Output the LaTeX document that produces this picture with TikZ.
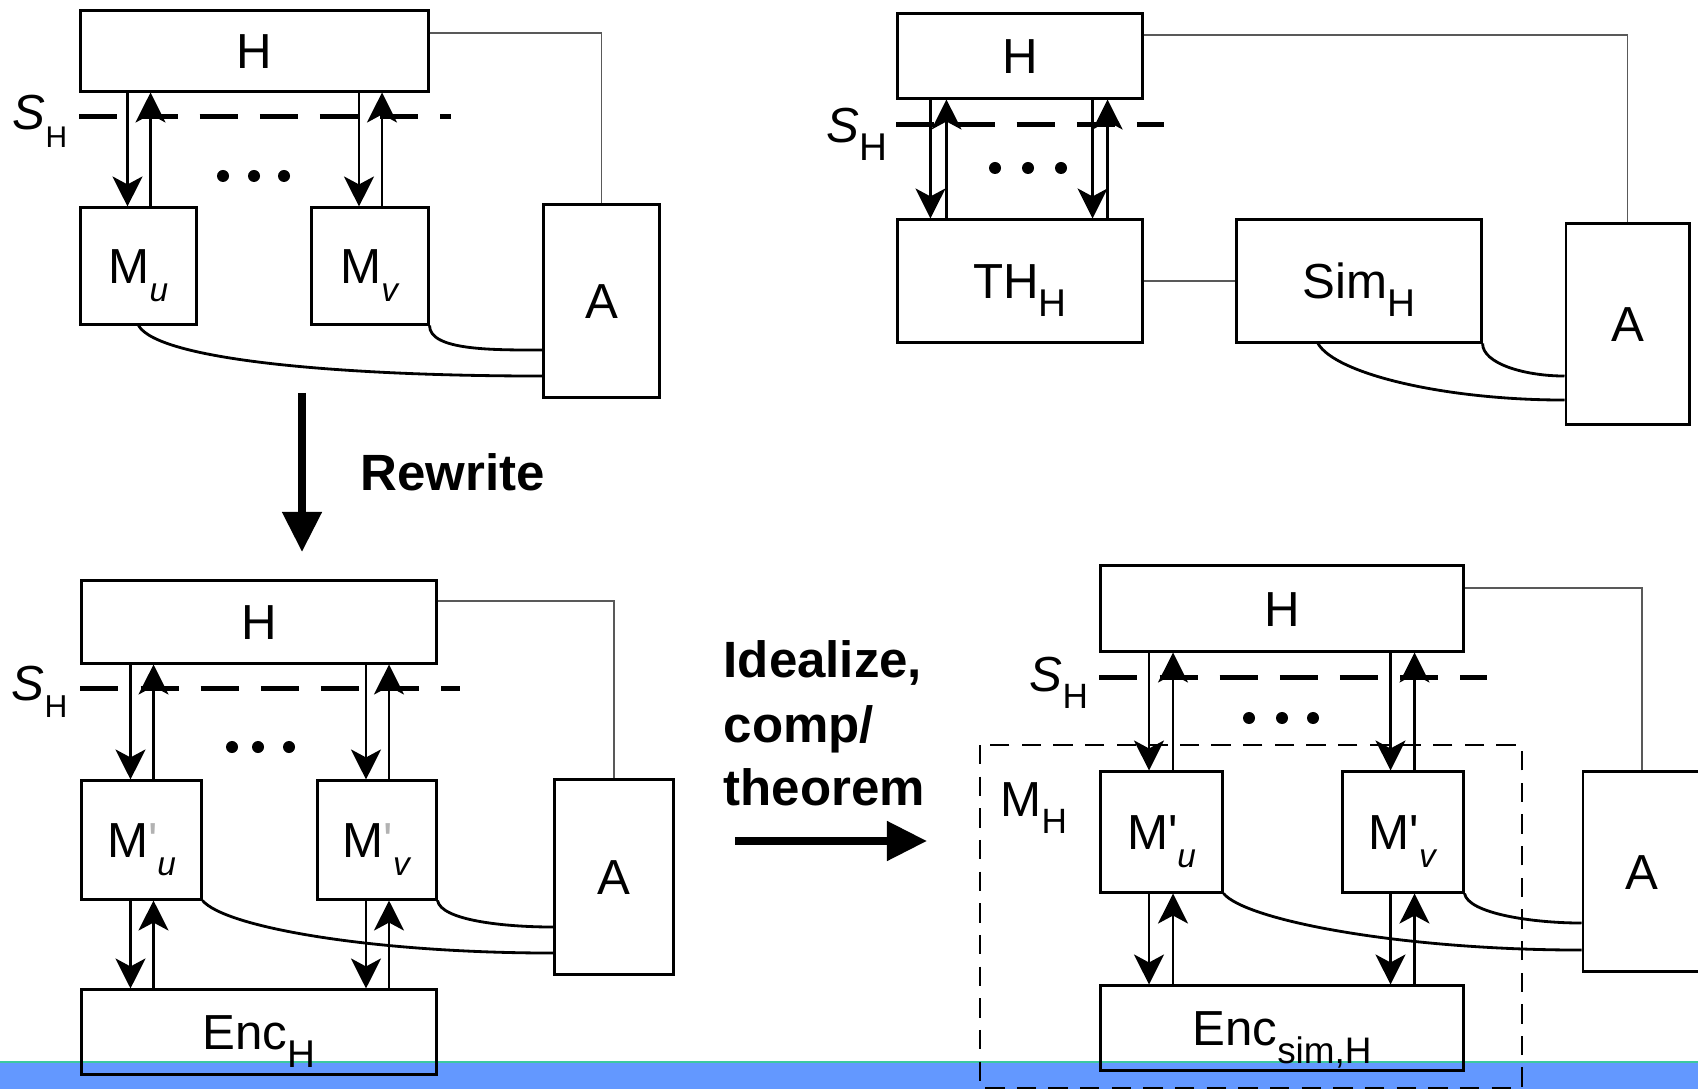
\documentclass[tikz,border=0pt]{standalone}
\usepackage{fontspec}
\setmainfont{Liberation Sans}
\usetikzlibrary{arrows.meta}
\definecolor{bandblue}{RGB}{99,152,255}
\definecolor{bandline}{RGB}{60,200,160}
\newcommand{\lowsub}[2][11]{\raisebox{-5pt}{\fontsize{#1}{#1}\selectfont #2}}

\begin{document}
\begin{tikzpicture}[
  x=0.01cm, y=-0.01cm,
  blk/.style={draw, line width=0.85pt, inner sep=0pt, text height=10pt, text depth=0pt},
  msg/.style={line width=0.65pt, -{Stealth[length=3mm, width=3mm, inset=0.8mm]}},
  wire/.style={line width=0.8pt},
  thinlink/.style={line width=0.35pt, black!65},
  sline/.style={line width=1.2pt, dash pattern=on 10.8pt off 6.3pt},
  mbox/.style={line width=0.6pt, dash pattern=on 5.5pt off 3.5pt},
  bigarrow/.style={line width=2.2pt, -{Triangle[length=4mm, width=3.8mm]}},
  rwtext/.style={font=\fontsize{14.5}{18}\selectfont\bfseries, inner sep=0pt, anchor=base west},
  slabel/.style={inner sep=0pt, anchor=base west},
  every node/.style={font=\fontsize{14}{16}\selectfont}
]
  \useasboundingbox (0,0) rectangle (1698,1089);
  \fill[bandblue] (0,1062) rectangle (1698,1089);
  \draw[bandline, line width=0.4pt] (0,1062) -- (1698,1062);

  % top left
  \node[blk, minimum width=3.47cm, minimum height=0.80cm] (h1) at (254.5,51) {H};
  \node[blk, minimum width=1.15cm, minimum height=1.16cm] (mu1) at (138.5,266) {M\lowsub[9.5]{\textit{u}}};
  \node[blk, minimum width=1.16cm, minimum height=1.16cm] (mv1) at (370,266) {M\lowsub[9.5]{\textit{v}}};
  \node[blk, minimum width=1.15cm, minimum height=1.92cm] (a1) at (601.5,301) {A};
  \node[slabel] (s1) at (12,130) {\textit{S}\lowsub[8.5]{H}};

  \draw[sline] ([yshift=-0.24cm]h1.south west) -- +(372,0);
  \foreach \m in {mu1,mv1}{
    \draw[msg] ([xshift=-0.11cm]\m.north |- h1.south) -- ([xshift=-0.11cm]\m.north);
    \draw[msg] ([xshift=0.12cm]\m.north) -- ([xshift=0.12cm]\m.north |- h1.south);
  }
  \foreach \x in {223,254,284} \fill (\x,176) circle (0.06cm);
  \draw[thinlink] ([yshift=0.18cm]h1.east) -| (a1.north);
  \draw[wire] (mu1.south) to[out=-60, in=180, out distance=0.4cm, in distance=2cm] ([yshift=-0.75cm]a1.west);
  \draw[wire] (mv1.south east) to[out=-90, in=180, out distance=0.25cm, in distance=0.5cm] ([yshift=-0.49cm]a1.west);

  \coordinate (rwtop) at (302,393);
  \coordinate (rwtip) at (302,552);
  \draw[bigarrow] (rwtop) -- (rwtip);
  \node[rwtext] (rw) at (360,491) {Rewrite};

  % top right
  \node[blk, minimum width=2.44cm, minimum height=0.84cm] (h2) at (1020,56) {H};
  \node[blk, minimum width=2.44cm, minimum height=1.22cm] (th) at (1020,281) {TH\lowsub{H}};
  \node[blk, minimum width=2.44cm, minimum height=1.22cm] (sim) at (1359,281) {Sim\lowsub{H}};
  \node[blk, minimum width=1.23cm, minimum height=2.00cm] (a2) at (1627.5,324) {A};
  \node[slabel] (s2) at (826,143) {\textit{S}\lowsub{H}};

  \draw[sline] ([yshift=-0.25cm]h2.south west) -- +(268,0);
  \foreach \da/\ua in {0.34/0.50, 1.96/2.11}{
    \draw[msg] ([xshift=\da cm]th.north west |- h2.south) -- ([xshift=\da cm]th.north west);
    \draw[msg] ([xshift=\ua cm]th.north west) -- ([xshift=\ua cm]th.north west |- h2.south);
  }
  \foreach \x in {995,1028,1061} \fill (\x,168) circle (0.06cm);
  \draw[thinlink] ([yshift=0.21cm]h2.east) -| (a2.north);
  \draw[thinlink] (th.east) -- (sim.west);
  \draw[wire] ([xshift=-0.41cm]sim.south) to[out=-60, in=180, out distance=0.35cm, in distance=1.2cm] ([yshift=-0.76cm]a2.west);
  \draw[wire] (sim.south east) to[out=-90, in=180, out distance=0.2cm, in distance=0.4cm] ([yshift=-0.52cm]a2.west);

  % bottom left
  \node[blk, minimum width=3.54cm, minimum height=0.82cm] (h3) at (259,622) {H};
  \node[blk, minimum width=1.19cm, minimum height=1.18cm] (mu3) at (141.5,840) {M{\color{black!30}\textquotesingle}\lowsub[9.5]{\textit{u}}};
  \node[blk, minimum width=1.18cm, minimum height=1.18cm] (mv3) at (377,840) {M{\color{black!30}\textquotesingle}\lowsub[9.5]{\textit{v}}};
  \node[blk, minimum width=1.18cm, minimum height=1.94cm] (a3) at (614,877) {A};
  \node[blk, minimum width=3.54cm, minimum height=0.84cm] (enc3) at (259,1032) {Enc\lowsub{H}};
  \node[slabel] (s3) at (11,700) {\textit{S}\lowsub[9]{H}};

  \draw[sline] ([yshift=-0.24cm]h3.south west) -- +(380,0);
  \foreach \m in {mu3,mv3}{
    \draw[msg] ([xshift=-0.11cm]\m.north |- h3.south) -- ([xshift=-0.11cm]\m.north);
    \draw[msg] ([xshift=0.12cm]\m.north) -- ([xshift=0.12cm]\m.north |- h3.south);
    \draw[msg] ([xshift=-0.11cm]\m.south) -- ([xshift=-0.11cm]\m.south |- enc3.north);
    \draw[msg] ([xshift=0.12cm]\m.south |- enc3.north) -- ([xshift=0.12cm]\m.south);
  }
  \foreach \x in {232,258,289} \fill (\x,747) circle (0.06cm);
  \draw[thinlink] ([yshift=0.21cm]h3.east) -| (a3.north);
  \draw[wire] (mu3.south east) to[out=-50, in=180, out distance=0.35cm, in distance=1.8cm] ([yshift=-0.76cm]a3.west);
  \draw[wire] (mv3.south east) to[out=-80, in=180, out distance=0.2cm, in distance=0.5cm] ([yshift=-0.50cm]a3.west);

  \node[rwtext] (id1) at (723,678) {Idealize,};
  \node[rwtext] (id2) at (723,742) {comp/};
  \node[rwtext] (id3) at (723,805) {theorem};
  \coordinate (idtail) at (735,841);
  \coordinate (idtip) at (927,841);
  \draw[bigarrow] (idtail) -- (idtip);

  % bottom right
  \node[blk, minimum width=3.62cm, minimum height=0.85cm] (h4) at (1282,608.5) {H};
  \node[blk, minimum width=1.21cm, minimum height=1.20cm] (mu4) at (1161.5,832) {M\textquotesingle\lowsub[9.5]{\textit{u}}};
  \node[blk, minimum width=1.20cm, minimum height=1.20cm] (mv4) at (1403,832) {M\textquotesingle\lowsub[9.5]{\textit{v}}};
  \node[blk, minimum width=1.18cm, minimum height=1.99cm] (a4) at (1642,871.5) {A};
  \node[blk, minimum width=3.62cm, minimum height=0.84cm] (enc4) at (1282,1028) {Enc\lowsub[10.5]{sim,H}};
  \node[slabel] (s4) at (1029,691) {\textit{S}\lowsub[10]{H}};
  \node[slabel] (mh) at (1000,816) {M\lowsub[10]{H}};
  \draw[mbox] (980,745) rectangle (1522,1088);

  \draw[sline] ([yshift=-0.25cm]h4.south west) -- +(388,0);
  \foreach \m in {mu4,mv4}{
    \draw[msg] ([xshift=-0.125cm]\m.north |- h4.south) -- ([xshift=-0.125cm]\m.north);
    \draw[msg] ([xshift=0.115cm]\m.north) -- ([xshift=0.115cm]\m.north |- h4.south);
    \draw[msg] ([xshift=-0.125cm]\m.south) -- ([xshift=-0.125cm]\m.south |- enc4.north);
    \draw[msg] ([xshift=0.115cm]\m.south |- enc4.north) -- ([xshift=0.115cm]\m.south);
  }
  \foreach \x in {1249,1282,1313} \fill (\x,718) circle (0.06cm);
  \draw[thinlink] ([yshift=0.205cm]h4.east) -| (a4.north);
  \draw[wire] (mu4.south east) to[out=-50, in=180, out distance=0.35cm, in distance=1.8cm] ([yshift=-0.785cm]a4.west);
  \draw[wire] (mv4.south east) to[out=-80, in=180, out distance=0.2cm, in distance=0.5cm] ([yshift=-0.515cm]a4.west);
\end{tikzpicture}
\end{document}
